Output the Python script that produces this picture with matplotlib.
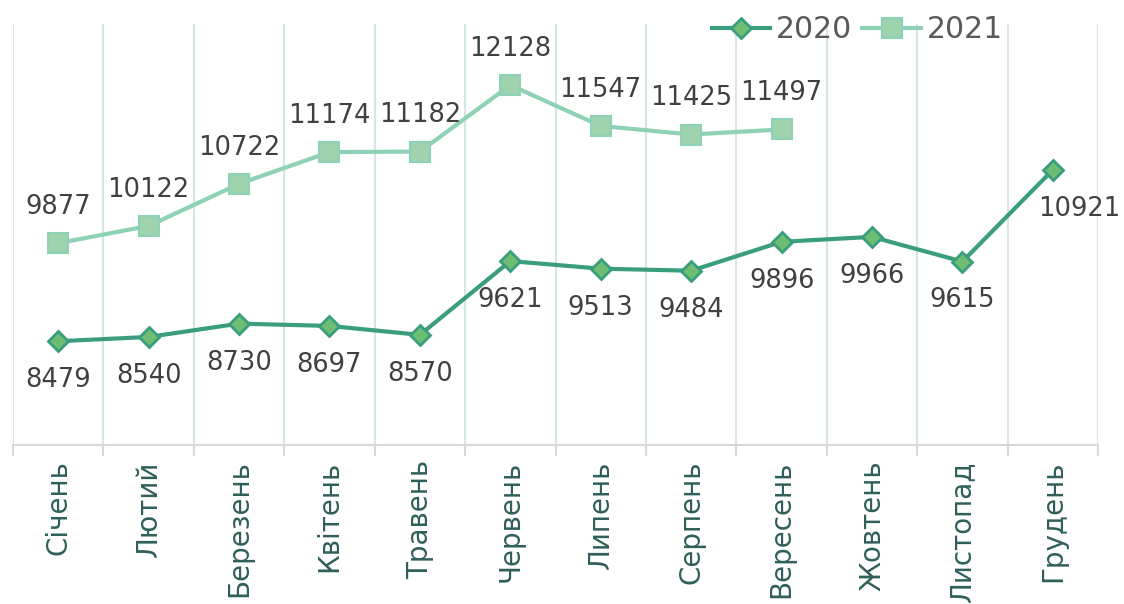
import matplotlib.pyplot as plt
import numpy as np

months = ['Січень', 'Лютий', 'Березень', 'Квітень', 'Травень', 'Червень',
          'Липень', 'Серпень', 'Вересень', 'Жовтень', 'Листопад', 'Грудень']
vals_2020 = [8479, 8540, 8730, 8697, 8570, 9621, 9513, 9484, 9896, 9966, 9615, 10921]
vals_2021 = [9877, 10122, 10722, 11174, 11182, 12128, 11547, 11425, 11497]

c20_line = '#3A9E7E'
c20_face = '#6DBE73'
c21_line = '#8FD1B5'
c21_face = '#9ED3AE'
lbl_col = '#404040'

fig = plt.figure(figsize=(11.24, 6.04), dpi=100)
ax = fig.add_axes([0.0116, 0.2632, 0.9653, 0.6971])

x = np.arange(len(months))
ax.plot(x, vals_2020, color=c20_line, lw=3, marker='D', ms=10,
        mfc=c20_face, mec=c20_line, mew=2, label='2020', zorder=3)
ax.plot(x[:len(vals_2021)], vals_2021, color=c21_line, lw=3, marker='s', ms=14,
        mfc=c21_face, mec=c21_line, mew=1.5, label='2021', zorder=3)

# data labels: 2020 below the points, 2021 above
for i, (xi, v) in enumerate(zip(x, vals_2020)):
    dx = 19 if i == len(vals_2020) - 1 else 0  # last label pushed right, as in source
    ax.annotate(str(v), (xi, v), xytext=(dx, -28), textcoords='offset points',
                ha='center', va='center', fontsize=18.5, color=lbl_col)
for xi, v in zip(x, vals_2021):
    ax.annotate(str(v), (xi, v), xytext=(0, 26), textcoords='offset points',
                ha='center', va='center', fontsize=18.5, color=lbl_col)

ax.set_xlim(-0.5, len(months) - 0.5)
ax.set_ylim(7000, 13000)
ax.set_yticks([])

ax.set_xticks(x)
ax.set_xticklabels(months, rotation=90, fontsize=20, color='#2F5F5A')
ax.tick_params(axis='x', which='major', length=0, pad=11)
ax.set_xticks(np.arange(-0.5, len(months)), minor=True)
ax.tick_params(axis='x', which='minor', length=8, width=1.5, color='#D9D9D9')
ax.grid(axis='x', which='minor', color='#D5E6E6', lw=1.5)
ax.grid(axis='x', which='major', visible=False)

for s in ['top', 'right', 'left']:
    ax.spines[s].set_visible(False)
ax.spines['bottom'].set_color('#D9D9D9')
ax.spines['bottom'].set_linewidth(1.5)

ax.legend(loc='upper right', bbox_to_anchor=(0.937, 1.085), ncol=2, frameon=False,
          fontsize=21.5, handlelength=1.95, columnspacing=0.35, handletextpad=0.2,
          labelcolor='#595959')

fig.savefig('out.png', dpi=100)
